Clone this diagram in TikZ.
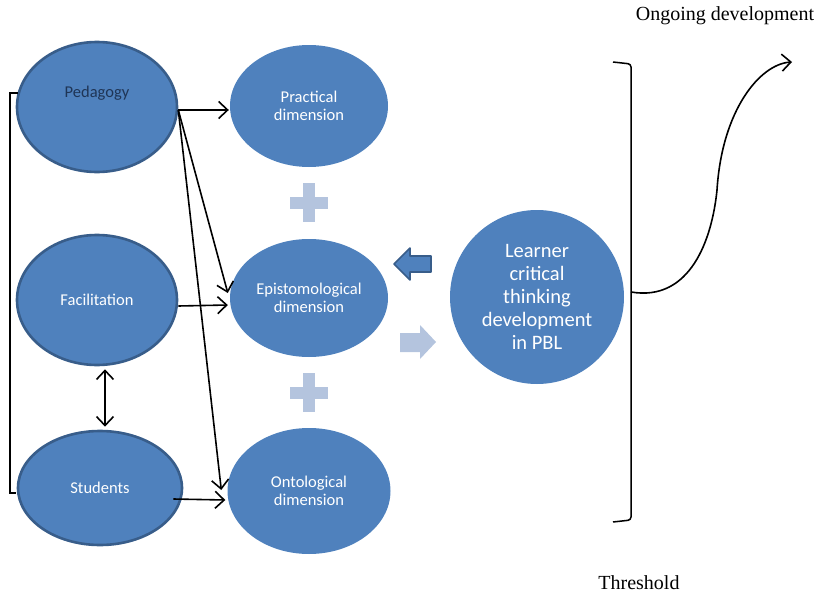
\documentclass[tikz,border=0pt]{standalone}
\usepackage{fontspec}
\setmainfont{Liberation Serif}
\newfontfamily\calib{Carlito}
\usetikzlibrary{shapes.geometric,arrows.meta}
\definecolor{blu}{HTML}{4F81BD}
\definecolor{bludark}{HTML}{385D8A}
\definecolor{bluelight}{HTML}{B4C4DE}
\definecolor{navy}{HTML}{1F3556}
\tikzset{
  leftell/.style={ellipse, draw=bludark, line width=2.6pt, fill=blu, inner sep=0pt,
    text=white, font=\calib\fontsize{16.5}{18}\selectfont, align=center},
  rightell/.style={ellipse, fill=blu, inner sep=0pt, text=white,
    font=\calib\fontsize{16.5}{18}\selectfont, align=center},
  arr/.style={line width=1.6pt, -{Straight Barb[length=9pt,width=17pt,line width=1.6pt]}},
  darr/.style={line width=1.6pt, {Straight Barb[length=9pt,width=17pt,line width=1.6pt]}-{Straight Barb[length=9pt,width=17pt,line width=1.6pt]}},
  plusbar/.style={fill=bluelight, draw=none},
  serifnote/.style={font=\fontsize{20}{22}\selectfont, text=black}
}
\begin{document}
\begin{tikzpicture}[x=1pt,y=-1pt]
\useasboundingbox (0,0) rectangle (823,597);
% left ellipses
\node[leftell, minimum width=160pt, minimum height=130pt,
  label={[text=navy, font=\calib\fontsize{16.5}{18}\selectfont, yshift=14pt]center:Pedagogy}] (ped) at (97,107) {};
\node[leftell, minimum width=160pt, minimum height=130pt] (fac) at (97,300) {Facilitation};
\node[leftell, minimum width=164pt, minimum height=114pt] (stu) at (100,488) {Students};
% right ellipses
\node[rightell, minimum width=158pt, minimum height=122pt] (prac) at (309,106) {Practical\\dimension};
\node[rightell, minimum width=158pt, minimum height=118pt] (epi) at (309,298) {Epistomological\\dimension};
\node[rightell, minimum width=163pt, minimum height=126pt] (onto) at (309,491) {Ontological\\dimension};
% learner circle
\node[circle, fill=blu, inner sep=0pt, minimum size=174pt, text=white,
  font=\calib\fontsize{20.5}{23}\selectfont, align=center] (learn) at (537,297)
  {Learner\\critical\\thinking\\development\\in PBL};
% plus signs
\fill[plusbar] (290,197) rectangle (328,209);
\fill[plusbar] (303,183) rectangle (315,222);
\fill[plusbar] (290,387) rectangle (328,399);
\fill[plusbar] (303,373) rectangle (315,412);
% block arrows
\filldraw[fill=blu, draw=bludark, line width=1.6pt, line join=round]
  (394,264) -- (410,248) -- (410,256) -- (431,256) -- (431,272) -- (410,272) -- (410,280) -- cycle;
\fill[bluelight] (400,333) -- (420,333) -- (420,325) -- (436,342) -- (420,359) -- (420,352) -- (400,352) -- cycle;
% connectors
\draw[arr] ([yshift=-3pt]ped.east) -- ([xshift=-1pt,yshift=-4pt]prac.west);
\draw[arr] ([yshift=-3pt]ped.east) -- ([xshift=-2pt,yshift=5pt]epi.west);
\draw[arr] ([yshift=-3pt]ped.east) -- ([xshift=-6pt,yshift=1pt]onto.west);
\draw[arr] ([yshift=-6pt]fac.east) -- ([xshift=-2pt,yshift=-7pt]epi.west);
\draw[arr] ([xshift=-10pt,yshift=-11pt]stu.east) -- ([xshift=-2pt,yshift=-9pt]onto.west);
\draw[darr] ([xshift=8pt,yshift=-3pt]fac.south) -- ([xshift=5pt,yshift=3pt]stu.north);
% left bracket
\draw[line width=1.1pt] ([shift={(2pt,14pt)}]ped.west) -- (10,93) -- (10,493) -- ([shift={(-1pt,-5pt)}]stu.west);
% right bracket
\coordinate (bt) at (613,62);
\coordinate (bb) at (613,522);
\coordinate (bm) at (631,292);
\coordinate (tip) at (792,62);
\draw[line width=1.5pt, rounded corners=3pt] (bt) -- (631,64) -- (631,520) -- (bb);
\draw[arr] (bm) .. controls (690,302) and (712,240) .. (717,190)
  .. controls (722,110) and (760,64) .. (tip);
% texts
\node[serifnote] (ongo) at (725,16) {Ongoing development};
\node[serifnote] (thr) at (639,583) {Threshold};
\end{tikzpicture}
\end{document}
